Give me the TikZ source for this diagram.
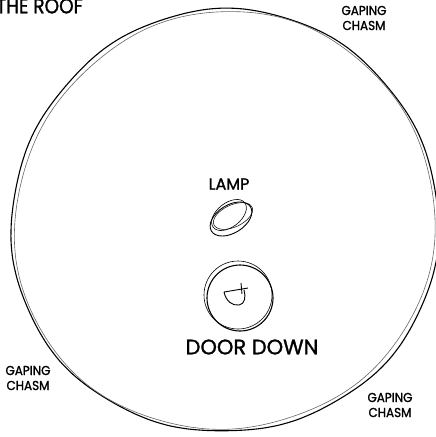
\documentclass[tikz,border=0pt]{standalone}
\usepackage{fontspec}
\setmainfont{Poppins}[FakeBold=1.3]
\begin{document}
\begin{tikzpicture}[x=1pt,y=-1pt,
  lbl/.style={inner sep=0pt, font=\fontsize{13}{15}\selectfont, align=center, text=black},
  ink/.style={line width=1.1pt, black, line join=round},
  inkthin/.style={line width=0.6pt, black!60},
]
\useasboundingbox (0,0) rectangle (436,437);
% outer hand-drawn circle
\begin{scope}[shift={(225,222)}]
\coordinate (ctr0) at (0,0);
\draw[ink] plot[domain=0:355, samples=72, smooth cycle, variable=\t]
  (\t:{212.5 + 2*sin(3*\t) + 1.5*cos(2*\t+40) + 0.6*sin(11*\t)});
\draw[inkthin] plot[domain=0:355, samples=72, smooth cycle, variable=\t]
  (\t:{209.5 + 2*sin(3*\t) + 1.5*cos(2*\t+40) - 1.5*sin(2*\t+20) + 0.5*sin(9*\t)});
\end{scope}
% lamp
\draw[line width=0.9pt] (231,219) ellipse[x radius=23, y radius=14, rotate=32];
\draw[line width=0.6pt] (229,215) ellipse[x radius=20, y radius=12, rotate=38];
\draw[line width=0.5pt] (233,216) ellipse[x radius=21, y radius=11, rotate=25];
% door
\draw[line width=1.1pt] (240,298) circle[radius=33];
\draw[line width=0.6pt] (238,295) circle[radius=34];
\draw[line width=0.9pt, line join=round] (224,292) -- (248,288)
  (224,292) .. controls (226,301) and (232,306) .. (239,305) .. controls (245,304) and (246,297) .. (244,290)
  (241,283) -- (242,294);
% labels
\node[lbl, anchor=west, font=\fontsize{21}{21}\selectfont, xscale=0.88] (roof) at (-4,6) {THE ROOF};
\node[lbl, xscale=0.92] (ctr) at (364,18) {GAPING\\CHASM};
\node[lbl, xscale=0.92] (cl) at (28,378) {GAPING\\CHASM};
\node[lbl, xscale=0.92] (cbr) at (390,405) {GAPING\\CHASM};
\node[lbl, font=\fontsize{16}{16}\selectfont] (lamp) at (229,184) {LAMP};
\node[lbl, font=\fontsize{21}{21}\selectfont] (door) at (252,347) {DOOR DOWN};
\end{tikzpicture}
\end{document}
